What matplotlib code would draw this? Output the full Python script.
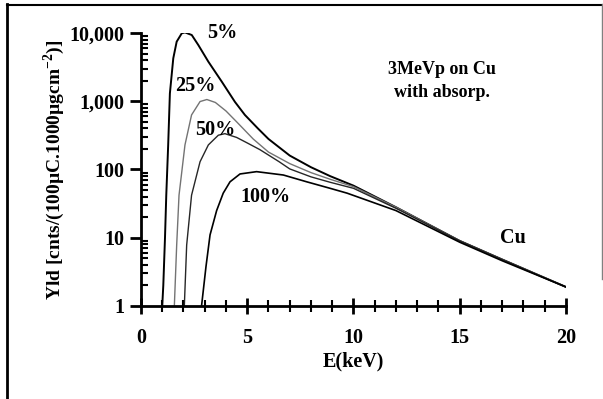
import numpy as np
import matplotlib
matplotlib.use('Agg')
import matplotlib.pyplot as plt
from matplotlib.ticker import FuncFormatter, MultipleLocator, LogLocator, NullFormatter
from matplotlib.lines import Line2D

plt.rcParams['font.family'] = ['Liberation Serif', 'DejaVu Serif']
plt.rcParams['font.weight'] = 'bold'
plt.rcParams['mathtext.fontset'] = 'custom'
plt.rcParams['mathtext.rm'] = 'Liberation Serif:bold'

# curves (E in keV, yield)
e5 = [1.0, 1.05, 1.13, 1.19, 1.28, 1.36, 1.52, 1.68, 1.92, 2.07, 2.39, 2.7, 3.17, 3.8, 4.42, 4.89, 5.5, 6.0,
      7.0, 8.0, 8.9, 10, 12, 15, 17, 20]
y5 = [1, 2, 10, 42, 229, 1300, 4260, 7470, 9900, 10200, 9340, 6650, 3800, 1940, 980, 630, 400, 280,
      160, 108, 80, 58, 28, 9, 4.8, 1.9]

e25 = [1.57, 1.68, 1.79, 2.07, 2.38, 2.78, 3.1, 3.5, 4.0, 4.5, 5.28, 6.0, 7.0, 8.0, 8.9, 10, 12, 15, 17, 20]
y25 = [1, 7.8, 42, 229, 630, 990, 1060, 960, 720, 500, 280, 180, 122, 90, 72, 56, 28, 9, 4.8, 1.9]

e50 = [2.04, 2.15, 2.38, 2.78, 3.17, 3.64, 3.95, 4.5, 5.0, 5.6, 6.5, 7.0, 8.0, 8.9, 10, 12, 15, 17, 20]
y50 = [1, 7.8, 42, 130, 229, 318, 335, 295, 245, 195, 130, 102, 78, 65, 53, 27, 9, 4.8, 1.9]

e100 = [2.85, 3.06, 3.25, 3.56, 3.87, 4.19, 4.66, 5.44, 6.7, 7.8, 8.9, 9.7, 12, 15, 17, 20]
y100 = [1, 3.8, 11, 25, 45, 66, 86, 93, 83, 66, 53, 45, 25, 8.6, 4.6, 1.9]

fig = plt.figure(figsize=(6.03, 3.99), dpi=100)
ax = fig.add_axes([0.2338, 0.2331, 0.7048, 0.6842])

ax.plot(e5, y5, color='black', lw=1.4)
ax.plot(e25, y25, color='0.45', lw=1.0)
ax.plot(e50, y50, color='0.15', lw=1.0)
ax.plot(e100, y100, color='black', lw=1.2)

ax.set_yscale('log')
ax.set_xlim(0, 20)
ax.set_ylim(1, 10000)

ax.spines['top'].set_visible(False)
ax.spines['right'].set_visible(False)
ax.spines['left'].set_linewidth(2)
ax.spines['bottom'].set_linewidth(2)

ax.xaxis.set_major_locator(MultipleLocator(5))
ax.xaxis.set_minor_locator(MultipleLocator(1))
ax.yaxis.set_major_locator(LogLocator(base=10))
ax.yaxis.set_minor_locator(LogLocator(base=10, subs=np.arange(2, 10)))
ax.yaxis.set_minor_formatter(NullFormatter())
ax.yaxis.set_major_formatter(FuncFormatter(lambda v, p: '{:,.0f}'.format(v)))

ax.tick_params(axis='x', which='major', direction='inout', length=12, width=2, pad=10, labelsize=14.5)
ax.tick_params(axis='x', which='minor', direction='inout', length=8, width=1.5)
ax.tick_params(axis='y', which='major', direction='out', length=8, width=2, pad=4, labelsize=14.5)
ax.tick_params(axis='y', which='minor', direction='in', length=5, width=1.5)

ax.set_xlabel('E(keV)', fontsize=14.5, fontweight='bold', labelpad=2)
ax.set_ylabel('Yld [cnts/(100\u00b5C.1000\u00b5gcm$^{-2}$)]', fontsize=14, fontweight='bold', labelpad=2)

ax.text(3.81, 10000, '5%', fontsize=14.5, fontweight='bold', ha='center', va='center')
ax.text(2.54, 1670, '25%', fontsize=14.5, fontweight='bold', ha='center', va='center')
ax.text(3.48, 380, '50%', fontsize=14.5, fontweight='bold', ha='center', va='center')
ax.text(5.84, 40, '100%', fontsize=14.5, fontweight='bold', ha='center', va='center')
ax.text(17.5, 9.9, 'Cu', fontsize=14.5, fontweight='bold', ha='center', va='center')
ax.text(14.16, 2000, '3MeVp on Cu\nwith absorp.', fontsize=13, fontweight='bold',
        ha='center', va='center', linespacing=1.45)

# page frame
fig.add_artist(Line2D([0.012, 0.012], [0, 0.99], transform=fig.transFigure, color='black', lw=2))
fig.add_artist(Line2D([0.012, 1.0], [0.988, 0.988], transform=fig.transFigure, color='black', lw=1.5))
fig.add_artist(Line2D([0.998, 0.998], [0.3, 0.99], transform=fig.transFigure, color='0.5', lw=1))

fig.savefig('out.png', dpi=100)
